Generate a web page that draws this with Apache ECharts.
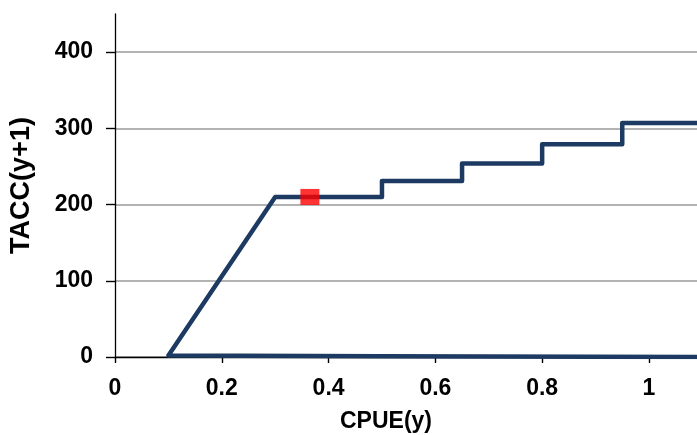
<!DOCTYPE html>
<html>
<head>
<meta charset="utf-8">
<script src="https://cdn.jsdelivr.net/npm/echarts@6/dist/echarts.min.js"></script>
<style>
html,body{margin:0;padding:0;background:#fff;}
#c{width:697px;height:435px;}
</style>
</head>
<body>
<div id="c"></div>
<script>
// Data
const cpue = [1.09, 0.5, 0.1, 0.3, 0.5, 0.5, 0.65, 0.65, 0.8, 0.8, 0.95, 0.95, 1.09];
const tacc = [0, 1, 2, 210, 210, 231, 231, 254, 254, 279, 279, 307, 307];
const markerCpue = [0.365];
const markerTacc = [210];
const yTicks = [0, 100, 200, 300, 400];
const xTicks = [0, 0.2, 0.4, 0.6, 0.8, 1];
const xName = 'CPUE(y)';
const yName = 'TACC(y+1)';

const chart = echarts.init(document.getElementById('c'), null, {renderer: 'canvas'});
const font = 'Liberation Sans, Arial, sans-serif';
chart.setOption({
  animation: false,
  grid: {left: 114, right: 0, top: 14, bottom: 78, containLabel: false},
  xAxis: {
    type: 'value', min: 0, max: 1.09, interval: 0.2,
    axisLine: {show: true, lineStyle: {color: '#000', width: 1.3}},
    axisTick: {show: true, inside: false, length: 6, lineStyle: {color: '#000', width: 1.4}, customValues: xTicks},
    axisLabel: {show: true, margin: 20, color: '#000', fontSize: 23, fontWeight: 'bold', fontFamily: font, customValues: xTicks},
    splitLine: {show: false}
  },
  yAxis: {
    type: 'value', min: 0, max: 450, interval: 100,
    name: yName, nameLocation: 'middle', nameGap: 80, nameRotate: 90,
    nameTextStyle: {color: '#000', fontSize: 27, fontWeight: 'bold', fontFamily: font},
    axisLine: {show: true, lineStyle: {color: '#000', width: 1.3}},
    axisTick: {show: true, inside: false, length: 9, lineStyle: {color: '#000', width: 1.4}, customValues: yTicks},
    axisLabel: {show: true, margin: 22, color: '#000', fontSize: 23, fontWeight: 'bold', fontFamily: font, customValues: yTicks},
    splitLine: {show: true, lineStyle: {color: '#9a9a9a', width: 1.6}}
  },
  graphic: [{
    type: 'text', left: 340, top: 410,
    style: {text: xName, fill: '#000', font: 'bold 23px ' + font}
  }],
  series: [{
    type: 'line',
    data: cpue.map((x, i) => [x, tacc[i]]),
    showSymbol: false,
    symbol: 'none',
    lineStyle: {color: '#1d3a62', width: 4.5, join: 'round'},
    clip: true,
    z: 3
  }, {
    type: 'scatter',
    data: markerCpue.map((x, i) => [x, markerTacc[i]]),
    symbol: 'rect',
    symbolSize: [19, 16],
    itemStyle: {color: '#ff0000'},
    z: 4
  }]
});
</script>
</body>
</html>
